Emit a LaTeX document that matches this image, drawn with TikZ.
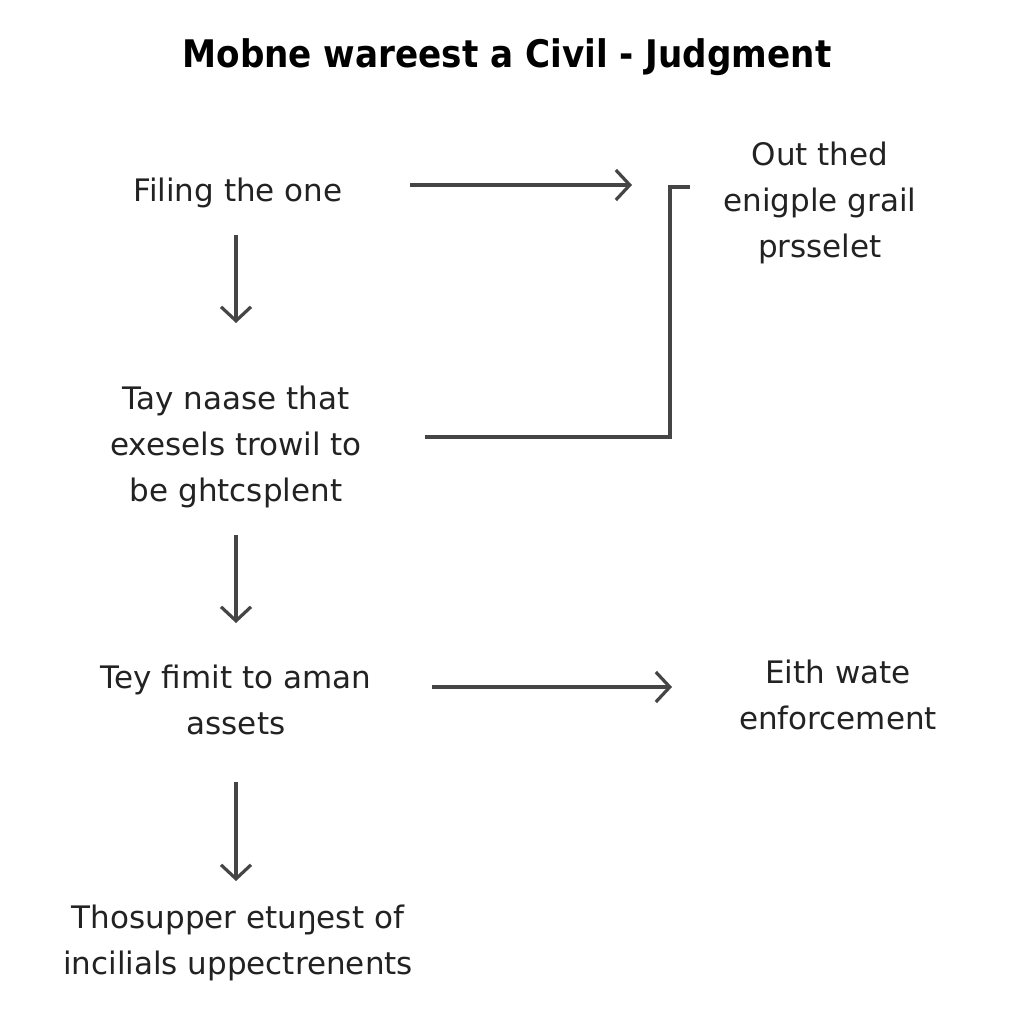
\documentclass[tikz,border=0pt]{standalone}
\usepackage{fontspec}
\setmainfont{DejaVu Sans}
\newfontfamily\titlefont{DejaVu Sans Condensed}
\usetikzlibrary{arrows.meta}
\definecolor{ink}{HTML}{222222}
\definecolor{wire}{HTML}{454545}
\tikzset{
  lbl/.style={align=center, text=ink, font=\fontsize{31}{46}\selectfont, inner sep=0pt},
  flow/.style={draw=wire, line width=3.4pt, -{Straight Barb[length=14pt,width=30pt,line width=3.2pt]}},
  plain/.style={draw=wire, line width=3.4pt},
}
\begin{document}
\begin{tikzpicture}[x=1pt,y=-1pt]
\fill[white] (0,0) rectangle (1024,1024);
\useasboundingbox (0,0) rectangle (1024,1024);
\node[text=black, font=\titlefont\bfseries\fontsize{38}{44}\selectfont, inner sep=0pt] (title) at (507,57) {Mobne wareest a Civil - Judgment};
\node[lbl] (a) at (238,193) {Filing the one};
\node[lbl] (b) at (820,203) {Out thed\\enigple grail\\prsselet};
\node[lbl] (c) at (236,447) {Tay naase that\\exesels trowil to\\be ghtcsplent};
\node[lbl] (d) at (236,700) {Tey fimit to aman\\assets};
\node[lbl] (e) at (838,695) {Eith wate\\enforcement};
\node[lbl] (f) at (238,943) {Thosupper etuŋest of\\incilials uppectrenents};
\coordinate (a1) at (410,185);
\coordinate (b1) at (632,185);
\draw[flow] (a1) -- (b1);
\coordinate (c1) at (425,437);
\coordinate (k1) at (670,437);
\coordinate (k2) at (670,187);
\coordinate (k3) at (690,187);
\draw[plain] (c1) -- (k1) -- (k2) -- (k3);
\draw[flow] (236,235) -- (236,323);
\draw[flow] (236,535) -- (236,623);
\draw[flow] (432,687) -- (672,687);
\draw[flow] (236,782) -- (236,881);
\end{tikzpicture}
\end{document}
